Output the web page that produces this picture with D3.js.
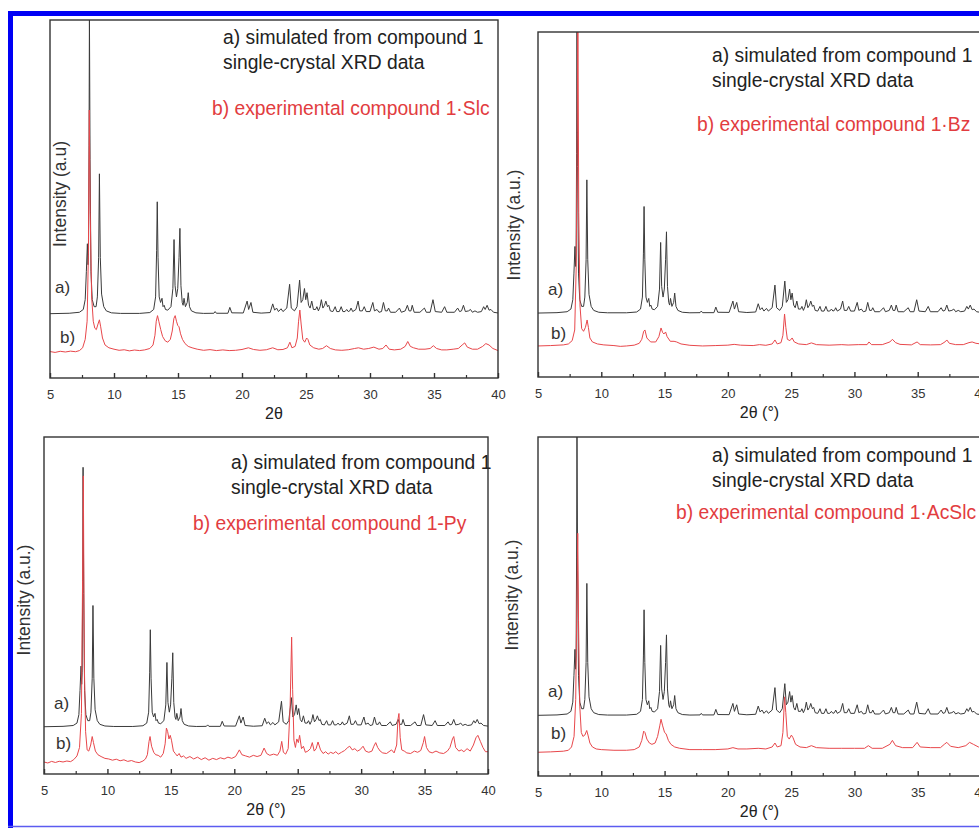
<!DOCTYPE html>
<html>
<head>
<meta charset="utf-8">
<script src="https://cdn.jsdelivr.net/npm/d3@7"></script>
<style>
  body { margin: 0; background: #fff; }
  svg { display: block; font-family: "Liberation Sans", Arial, sans-serif; }
</style>
</head>
<body>
<svg id="chart"></svg>
<script>
// x axis (2theta, degrees)
var majorTicks = [5, 10, 15, 20, 25, 30, 35, 40];
var minorTicks = [7.5, 12.5, 17.5, 22.5, 27.5, 32.5, 37.5];

// a) simulated pattern, same in all four panels (relative intensity, 8.9 peak = 100)
var simulated = [
  [5,0],[6.5,0.3],[7.3,1],[7.6,3],[7.75,10],[7.84,30],[7.92,50],[7.97,35],[8.01,45],[8.05,120],[8.08,214],[8.13,110],
  [8.2,30],[8.3,10],[8.45,5],[8.6,5],[8.7,12],[8.8,40],[8.86,100],[8.93,40],[9.03,14],[9.2,5],[9.4,2],[9.8,0.6],
  [10.5,0.2],[12,0.2],[12.8,0.8],[13.1,3],[13.25,12],[13.33,45],[13.38,80],[13.44,40],[13.53,12],[13.64,8],[13.75,11],
  [13.83,5],[13.92,6],[14.02,3],[14.2,2.5],[14.45,5],[14.6,18],[14.69,53],[14.77,20],[14.88,12],[14.98,18],[15.08,40],
  [15.15,61],[15.23,20],[15.33,8],[15.4,6],[15.47,11],[15.58,5],[15.72,8],[15.8,15],[15.9,5],[16.05,2],[16.4,0.6],
  [17,0.2],[17.8,0.3],[17.9,1.5],[18,0.3],[18.9,0.3],[19.05,4.5],[19.2,0.6],[20.1,0.5],[20.4,9],[20.52,3],[20.7,8],
  [20.85,1],[21.5,0.4],[22.2,0.8],[22.4,7],[22.55,2.5],[22.7,4],[22.85,1.5],[23.05,3.5],[23.2,1.5],[23.5,4],[23.72,21],
  [23.85,4],[24.1,2],[24.3,5],[24.5,24],[24.62,8],[24.75,10],[24.88,18],[24.98,10],[25.08,15],[25.2,6],[25.32,4],
  [25.45,9],[25.58,3],[25.75,3],[25.85,5],[25.97,2],[26.1,5],[26.2,10],[26.32,4],[26.45,6],[26.55,9],[26.68,5],
  [26.78,6],[26.9,2],[27.1,1.5],[27.28,5],[27.4,1.5],[27.6,1.5],[27.75,5],[27.88,1.5],[28.05,1.5],[28.18,3],[28.3,1.5],
  [28.42,2],[28.52,4],[28.65,1.5],[28.9,3],[29.07,9],[29.2,2],[29.4,2],[29.55,5],[29.7,1.5],[30,1.5],[30.22,8],
  [30.35,2],[30.55,3],[30.7,1],[30.9,1.5],[31.05,8],[31.2,2],[31.35,2],[31.45,4],[31.6,1],[32,1],[32.3,4],[32.45,1],
  [32.75,2],[32.92,6],[33.05,2],[33.2,2],[33.3,6],[33.45,1],[33.9,1],[34.25,4],[34.4,1],[34.7,1],[34.92,10],[35.1,1.5],
  [35.6,1],[35.83,5],[36,1],[36.6,1],[36.85,4],[37,1.5],[37.15,2],[37.3,6],[37.45,1.5],[37.7,2],[37.85,3],[38,1],
  [38.2,2],[38.4,1],[38.7,1.5],[38.88,5],[39,3],[39.15,6],[39.3,2.5],[39.45,3],[39.65,1],[40,0.5]
];

// b) experimental patterns (intensity above own baseline, same units as panel)
var expSlc = [
  [5,0.3],[5.4,-0.3],[5.8,0.5],[6.2,0],[6.6,0.6],[7,0.2],[7.3,1],[7.55,3],[7.75,9],[7.9,22],[8.0,70],[8.07,173],
  [8.14,100],[8.25,40],[8.38,22],[8.5,17],[8.62,16],[8.75,20],[8.86,23],[8.96,18],[9.1,10],[9.3,5],[9.6,3],[10,2],
  [10.4,1.2],[10.8,1.6],[11.2,0.8],[11.6,1.4],[12,1],[12.4,1.5],[12.8,2.5],[13.05,5],[13.2,12],[13.3,22],[13.4,26],
  [13.5,22],[13.65,16],[13.8,11],[14,8],[14.2,7],[14.4,9],[14.55,15],[14.68,24],[14.78,26],[14.88,22],[14.98,19],
  [15.08,18],[15.2,13],[15.35,9],[15.55,6],[15.8,4],[16.1,3],[16.5,2],[17,1.2],[17.5,1.7],[18,1],[18.5,1.5],[19,1],
  [19.5,1.2],[20,1.8],[20.5,3],[20.9,1.8],[21.4,1.2],[21.9,1.6],[22.4,3],[22.8,1.6],[23.2,1.8],[23.55,3],[23.74,7],
  [23.9,3],[24.15,4],[24.32,10],[24.42,22],[24.52,30],[24.62,20],[24.75,9],[24.9,7],[25.05,10],[25.15,9],[25.3,5],
  [25.6,3],[26,2],[26.3,2.5],[26.6,4.5],[26.9,2.5],[27.3,1.5],[27.8,1.2],[28.3,1.6],[28.8,2.5],[29.1,3],[29.5,2],
  [29.9,2.5],[30.3,3.5],[30.7,2],[31,2.5],[31.25,5],[31.5,2],[31.9,1.5],[32.4,2],[32.75,4],[32.95,7.5],[33.15,4],
  [33.4,3],[33.8,2],[34.3,2],[34.7,2.5],[34.95,4.5],[35.2,2.5],[35.6,1.5],[36,1.5],[36.5,2],[36.9,2.5],[37.2,5],
  [37.4,6.5],[37.6,3.5],[38,2],[38.4,2],[38.8,4],[39.05,6],[39.3,5],[39.6,2.5],[40,1]
];
var expBz = [
  [5,0],[6,0.3],[7,0.8],[7.4,1.5],[7.7,4],[7.9,12],[8.02,60],[8.1,160],[8.15,260],[8.22,100],[8.32,30],[8.45,13],
  [8.6,11],[8.75,14],[8.88,19.5],[8.98,14],[9.1,6],[9.3,3],[9.7,1.5],[10.2,0.8],[11,0.3],[11.5,-0.3],[12,0],[12.6,0.6],
  [13,2],[13.2,5],[13.35,11],[13.45,12],[13.6,6],[13.9,3],[14.3,3],[14.55,7],[14.72,13.5],[14.85,10],[14.95,9],
  [15.08,10.5],[15.2,7],[15.45,3.5],[15.75,3.5],[15.95,3],[16.3,1.5],[17,0.5],[18,0],[19,0.3],[20,0.6],[20.5,1.2],
  [21,0.6],[22,0.3],[22.5,1],[23,0.5],[23.5,1.5],[23.72,4.5],[23.9,1.5],[24.2,2.5],[24.35,8],[24.48,24],[24.58,14],
  [24.7,5],[24.9,4],[25.08,6],[25.25,3],[25.6,1.5],[26.2,1],[26.6,2.3],[27,1],[28,0.6],[29,1],[29.5,0.7],[30.3,1],
  [31,1],[31.15,3],[31.35,1],[32.2,1],[32.8,3],[33,5],[33.25,2.5],[33.6,1.2],[34.5,0.8],[34.95,3],[35.2,1],[36,0.8],
  [36.8,1],[37.15,3],[37.3,4.5],[37.5,2],[38,1],[38.6,1],[39.05,2.5],[39.3,3],[39.6,2],[40,1.5]
];
var expPy = [
  [5,0],[5.3,-0.8],[5.6,0.5],[5.9,-0.4],[6.2,0.6],[6.5,0],[6.8,0.8],[7.1,0.3],[7.35,2],[7.6,5],[7.8,12],[7.95,40],
  [8.04,150],[8.1,236],[8.18,80],[8.28,25],[8.4,10],[8.53,9],[8.68,14],[8.8,21],[8.9,16],[9.05,9],[9.25,6],[9.5,4.5],
  [9.8,3],[10.1,2.5],[10.4,1.5],[10.7,2.3],[11,1],[11.3,1.8],[11.6,0.5],[11.9,1.2],[12.2,0],[12.5,-0.5],[12.8,0.8],
  [13,2.5],[13.15,6],[13.28,17],[13.36,21],[13.48,13],[13.65,8],[13.8,6],[14,5.5],[14.2,4],[14.4,7],[14.55,15],
  [14.65,28],[14.75,25],[14.85,19],[14.95,22],[15.05,18],[15.2,9],[15.35,7],[15.5,5],[15.65,7],[15.8,4],[16,5],
  [16.2,3],[16.5,4.5],[16.8,2.5],[17.1,4],[17.4,2],[17.7,3.5],[18,1.5],[18.3,3],[18.6,2],[18.9,3.5],[19.2,2.5],
  [19.5,4],[19.8,3],[20.1,4.5],[20.4,10],[20.6,6],[20.9,5],[21.2,4],[21.5,5.5],[21.8,4.5],[22.1,5.5],[22.35,11.5],
  [22.55,7],[22.8,5.5],[23.1,6.5],[23.4,5.5],[23.6,9],[23.74,17],[23.87,8],[24.05,6.5],[24.25,11],[24.4,45],
  [24.52,103],[24.6,60],[24.7,18],[24.82,12],[24.93,19],[25.05,16],[25.15,22],[25.3,11],[25.45,13],[25.6,8],[25.8,9],
  [26,11],[26.15,16],[26.3,9],[26.45,11],[26.6,16.5],[26.8,10],[27,7],[27.2,8.5],[27.4,6.5],[27.6,8],[27.8,7],[28,8.5],
  [28.2,6.5],[28.45,8],[28.7,9.5],[28.95,12],[29.1,13],[29.3,10],[29.5,11],[29.7,9],[29.9,10],[30.15,13],[30.35,9],
  [30.6,8],[30.85,9],[31,13],[31.15,16],[31.3,12],[31.5,9],[31.7,7.5],[32,7],[32.2,8.5],[32.4,10],[32.6,7.5],[32.8,14],
  [32.9,35],[32.98,40],[33.08,20],[33.2,10],[33.4,9],[33.6,7.5],[33.9,7],[34.2,9],[34.45,8],[34.7,9.5],[34.9,16],
  [35,21],[35.15,12],[35.35,8.5],[35.6,7.5],[35.9,9],[36.2,7.5],[36.5,7],[36.8,9],[37,12],[37.2,19],[37.3,21],[37.45,12],
  [37.7,9],[37.9,10],[38.1,8.5],[38.35,11],[38.6,9],[38.85,14],[39.05,20],[39.2,22],[39.4,17],[39.6,12],[39.8,8.5],[40,8.5]
];
var expAcSlc = [
  [5,0],[6,0.3],[7,0.8],[7.4,1.5],[7.65,4],[7.85,12],[7.98,40],[8.08,120],[8.14,166],[8.2,100],[8.3,35],[8.42,15],
  [8.55,12],[8.7,13],[8.85,16.5],[8.95,13],[9.1,7],[9.3,4],[9.6,2.5],[10,2],[11,1.5],[12,1.5],[12.6,2],[13,4],[13.2,9],
  [13.35,16],[13.45,15],[13.6,10],[13.8,7],[14,6],[14.25,7],[14.45,12],[14.62,20],[14.72,25],[14.85,20],[15,15],
  [15.12,14],[15.3,9],[15.5,6],[15.8,4],[16.2,3],[17,2],[18,2],[19,2],[20,2.5],[20.4,3.5],[20.8,2.5],[21.5,2.5],
  [22.4,3],[23,2.5],[23.5,4],[23.72,7],[23.9,4],[24.2,5],[24.35,15],[24.48,42],[24.58,30],[24.7,12],[24.85,10],
  [25.02,13],[25.15,11],[25.35,6],[25.7,4],[26.2,3.5],[26.6,5],[27,3.5],[28,3],[29,3],[30,3],[30.8,3],[31.1,5],
  [31.4,3],[32.2,3],[32.8,6],[33,9],[33.25,5],[33.8,3.5],[34.6,3.5],[34.95,7.5],[35.2,4],[36,3.5],[36.8,3.5],[37.1,6],
  [37.3,7.5],[37.6,4.5],[38.2,3.5],[38.8,5],[39.1,7.5],[39.4,6],[39.8,4],[40,4]
];

var experimental = [expSlc, expBz, expPy, expAcSlc];
var simLabel = ["a) simulated from compound 1", "single-crystal XRD data"];
var expLabels = [
  "b) experimental compound 1\u00b7Slc",
  "b) experimental compound 1\u00b7Bz",
  "b) experimental compound 1-Py",
  "b) experimental compound 1\u00b7AcSlc"
];
var yTitles = ["Intensity (a.u)", "Intensity (a.u.)", "Intensity (a.u.)", "Intensity (a.u.)"];
var xTitles = ["2\u03b8", "2\u03b8 (\u00b0)", "2\u03b8 (\u00b0)", "2\u03b8 (\u00b0)"];
// data-space stacking per panel: top of y domain, offset of a) and of b)
var yMax = [256, 259, 278, 257];
var simOffset = [46, 48, 39, 46];
var expOffset = [18.6, 23.3, 9.9, 18];

// layout (pixels)
var frames = [
  { l: 50, r: 498, t: 20, b: 378, aX: 55, aY: 287, bX: 60, bY: 337, yTx: 60, yTy: 194, txtX: 223, txtY: 37, redX: 212, redY: 108 },
  { l: 538, r: 981, t: 32, b: 377, aX: 548, aY: 289, bX: 551, bY: 333, yTx: 514, yTy: 225, txtX: 712, txtY: 55, redX: 697, redY: 124 },
  { l: 44, r: 488, t: 437, b: 774, aX: 54, aY: 703, bX: 56, bY: 743, yTx: 24, yTy: 600, txtX: 231, txtY: 462, redX: 193, redY: 523 },
  { l: 538, r: 981, t: 437, b: 776, aX: 548, aY: 691, bX: 551, bY: 733, yTx: 512, yTy: 595, txtX: 712, txtY: 455, redX: 676, redY: 512 }
];

var svg = d3.select("#chart").attr("width", 979).attr("height", 828);

function drawPanel(k) {
  var f = frames[k];
  var g = svg.append("g");
  var x = d3.scaleLinear().domain([5, 40]).range([f.l, f.r]);
  var y = d3.scaleLinear().domain([0, yMax[k]]).range([f.b, f.t]);

  g.append("clipPath").attr("id", "clip" + k)
    .append("rect").attr("x", f.l).attr("y", f.t).attr("width", f.r - f.l).attr("height", f.b - f.t);

  var plot = g.append("g").attr("clip-path", "url(#clip" + k + ")");

  var simLine = d3.line().x(function (d) { return x(d[0]); }).y(function (d) { return y(d[1] + simOffset[k]); });
  var expLine = d3.line().x(function (d) { return x(d[0]); }).y(function (d) { return y(d[1] + expOffset[k]); });

  plot.append("path").datum(simulated)
    .attr("d", simLine)
    .style("fill", "none").style("stroke", "#3a3a3a").style("stroke-width", 1);
  plot.append("path").datum(experimental[k])
    .attr("d", expLine)
    .style("fill", "none").style("stroke", "#e8474b").style("stroke-width", 1);

  // frame
  g.append("rect")
    .attr("x", f.l).attr("y", f.t).attr("width", f.r - f.l).attr("height", f.b - f.t)
    .style("fill", "none").style("stroke", "#333").style("stroke-width", 1.4);

  // bottom axis, ticks pointing inward
  var ax = g.append("g").attr("transform", "translate(0," + f.b + ")")
    .call(d3.axisBottom(x).tickValues(majorTicks).tickSize(-5).tickPadding(12).tickFormat(d3.format("d")));
  ax.select(".domain").remove();
  ax.selectAll("line").style("stroke", "#333").style("stroke-width", 1.4);
  ax.selectAll("text").style("font-size", "13px").style("fill", "#333")
    .style("font-family", "'Liberation Sans', Arial, sans-serif");

  var mx = g.append("g").attr("transform", "translate(0," + f.b + ")")
    .call(d3.axisBottom(x).tickValues(minorTicks).tickSize(-3).tickFormat(""));
  mx.select(".domain").remove();
  mx.selectAll("line").style("stroke", "#333").style("stroke-width", 1.2);

  g.append("text")
    .attr("x", (f.l + f.r) / 2).attr("y", f.b + 35).attr("dy", "0.35em")
    .style("text-anchor", "middle").style("font-size", "16px").style("fill", "#222")
    .text(xTitles[k]);

  g.append("text")
    .attr("transform", "translate(" + f.yTx + "," + f.yTy + ") rotate(-90)")
    .attr("dy", "0.35em")
    .style("text-anchor", "middle").style("font-size", "17.5px").style("fill", "#333")
    .text(yTitles[k]);

  g.append("text").attr("x", f.aX).attr("y", f.aY).attr("dy", "0.35em")
    .style("font-size", "17px").style("fill", "#333").text("a)");
  g.append("text").attr("x", f.bX).attr("y", f.bY).attr("dy", "0.35em")
    .style("font-size", "17px").style("fill", "#333").text("b)");

  g.append("text").attr("x", f.txtX).attr("y", f.txtY).attr("dy", "0.35em")
    .style("font-size", "19.3px").style("fill", "#222").text(simLabel[0]);
  g.append("text").attr("x", f.txtX).attr("y", f.txtY + 25).attr("dy", "0.35em")
    .style("font-size", "19.3px").style("fill", "#222").text(simLabel[1]);
  g.append("text").attr("x", f.redX).attr("y", f.redY).attr("dy", "0.35em")
    .style("font-size", "19.3px").style("fill", "#e23c40").text(expLabels[k]);
}

for (var k = 0; k < frames.length; k++) {
  drawPanel(k);
}

// blue border round the figure
svg.append("line").attr("x1", 10.5).attr("y1", 11).attr("x2", 10.5).attr("y2", 828)
  .style("stroke", "#0000f5").style("stroke-width", 5);
svg.append("line").attr("x1", 8).attr("y1", 13.5).attr("x2", 979).attr("y2", 13.5)
  .style("stroke", "#0000f5").style("stroke-width", 5);
svg.append("line").attr("x1", 8).attr("y1", 826.5).attr("x2", 979).attr("y2", 826.5)
  .style("stroke", "#5c5cf0").style("stroke-width", 1.5);
</script>
</body>
</html>
